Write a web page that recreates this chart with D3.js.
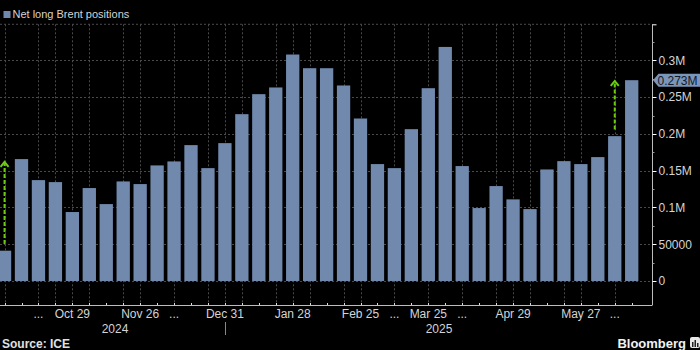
<!DOCTYPE html>
<html>
<head>
<meta charset="utf-8">
<script src="https://cdn.jsdelivr.net/npm/d3@7/dist/d3.min.js"></script>
<style>
  html, body { margin: 0; padding: 0; background: #000; }
  svg { display: block; }
  text { font-family: "Liberation Sans", Arial, sans-serif; }
</style>
</head>
<body>
<svg id="chart" width="700" height="350"></svg>
<script>
// ---------- DATA ----------
const weeks = [
  "2024-10-01","2024-10-08","2024-10-15","2024-10-22","2024-10-29","2024-11-05","2024-11-12","2024-11-19",
  "2024-11-26","2024-12-03","2024-12-10","2024-12-17","2024-12-24","2024-12-31","2025-01-07","2025-01-14",
  "2025-01-21","2025-01-28","2025-02-04","2025-02-11","2025-02-18","2025-02-25","2025-03-04","2025-03-11",
  "2025-03-18","2025-03-25","2025-04-01","2025-04-08","2025-04-15","2025-04-22","2025-04-29","2025-05-06",
  "2025-05-13","2025-05-20","2025-05-27","2025-06-03","2025-06-10","2025-06-17"
];
const netLong = [
  41200, 165800, 137200, 134500, 93800, 126400, 104600, 135400,
  131800, 157200, 162600, 184800, 153500, 187500, 226900, 254100,
  263200, 308000, 289400, 289400, 265900, 221000, 159000, 153500,
  206500, 262200, 318300, 156300, 99200, 129100, 111000, 97800,
  151700, 163000, 159000, 168500, 197000, 273100
];
const seriesName = "Net long Brent positions";
const yTicks = [0, 50000, 100000, 150000, 200000, 250000, 300000];
const yTickLabels = ["0", "50000", "0.1M", "0.15M", "0.2M", "0.25M", "0.3M"];
const yMinorTicks = [25000, 75000, 125000, 175000, 225000, 275000, 325000];
const gridWeeks = [
  "2024-10-01","2024-10-15","2024-10-22","2024-10-29","2024-11-05","2024-11-19","2024-11-26","2024-12-10",
  "2024-12-24","2024-12-31","2025-01-07","2025-01-21","2025-01-28","2025-02-04","2025-02-18","2025-02-25",
  "2025-03-11","2025-03-25","2025-04-08","2025-04-22","2025-04-29","2025-05-06","2025-05-20","2025-05-27",
  "2025-06-10"
];
const xTickWeeks  = ["2024-10-15","2024-10-29","2024-11-26","2024-12-10","2024-12-31","2025-01-28","2025-02-25","2025-03-11","2025-03-25","2025-04-08","2025-04-29","2025-05-27","2025-06-10"];
const xTickLabels = ["...","Oct 29","Nov 26","...","Dec 31","Jan 28","Feb 25","...","Mar 25","...","Apr 29","May 27","..."];
const yearBreakWeek = "2024-12-31";
const yearLabels = ["2024", "2025"];
const arrows = [
  { week: "2024-10-01", from: 50300, to: 162000 },
  { week: "2025-06-10", from: 206000, to: 272000 }
];
const lastLabel = "0.273M";
const sourceText = "Source: ICE";

// ---------- LAYOUT ----------
const plotLeft = 0, plotRight = 652.5, plotTop = 24.3, plotBottom = 305;
const barColor = "#7089ad";
const gridColor = "#4a4a4a";
const textColor = "#d4d4d4";

const svg = d3.select("#chart");
svg.append("rect").attr("width", 700).attr("height", 350).attr("fill", "#000");

const x = d3.scaleBand()
  .domain(weeks)
  .range([-3.92, 640.18])
  .paddingInner(0.215)
  .paddingOuter(0.1075);
const xc = w => x(w) + x.bandwidth() / 2;

const y = d3.scaleLinear().domain([0, 300000]).range([281, 60.4]);

const clip = svg.append("clipPath").attr("id", "plotclip")
  .append("rect").attr("x", plotLeft).attr("y", plotTop)
  .attr("width", plotRight - plotLeft).attr("height", plotBottom - plotTop);

// grid
const grid = svg.append("g");
grid.selectAll("line.h").data(yTicks.concat([349000])).join("line")
  .attr("x1", plotLeft).attr("x2", plotRight)
  .attr("y1", d => d === 349000 ? plotTop : Math.round(y(d)) + 0.5)
  .attr("y2", d => d === 349000 ? plotTop : Math.round(y(d)) + 0.5)
  .attr("stroke", gridColor).attr("stroke-width", 1).attr("stroke-dasharray", "2,2");
grid.selectAll("line.v").data(gridWeeks).join("line")
  .attr("x1", d => Math.round(xc(d)) + 0.5).attr("x2", d => Math.round(xc(d)) + 0.5)
  .attr("y1", plotTop).attr("y2", plotBottom)
  .attr("stroke", gridColor).attr("stroke-width", 1).attr("stroke-dasharray", "2,2");

// bars
svg.append("g").attr("clip-path", "url(#plotclip)")
  .selectAll("rect").data(weeks).join("rect")
  .attr("x", d => x(d))
  .attr("width", x.bandwidth())
  .attr("y", (d, i) => y(netLong[i]))
  .attr("height", (d, i) => y(0) - y(netLong[i]))
  .attr("fill", barColor);

// arrows
const ag = svg.append("g");
arrows.forEach(a => {
  const ax = xc(a.week);
  const y0 = y(a.from), y1 = y(a.to);
  ag.append("line").attr("x1", ax).attr("x2", ax).attr("y1", y0).attr("y2", y1 + 1)
    .attr("stroke", "#6ccc12").attr("stroke-width", 2).attr("stroke-dasharray", "4,2");
  ag.append("path")
    .attr("d", `M${ax - 4},${y1 + 5} L${ax},${y1} L${ax + 4},${y1 + 5}`)
    .attr("fill", "none").attr("stroke", "#6ccc12").attr("stroke-width", 2);
});

// right axis
const axisColor = "#bdbdbd";
svg.append("line").attr("x1", plotRight).attr("x2", plotRight)
  .attr("y1", plotTop).attr("y2", plotBottom)
  .attr("stroke", axisColor).attr("stroke-width", 1);
svg.append("line").attr("x1", plotRight).attr("x2", plotRight + 4)
  .attr("y1", plotTop + 0.5).attr("y2", plotTop + 0.5)
  .attr("stroke", "#fff").attr("stroke-width", 1);
const yax = svg.append("g");
yax.selectAll("line.maj").data(yTicks).join("line")
  .attr("x1", plotRight).attr("x2", plotRight + 4)
  .attr("y1", d => Math.round(y(d)) + 0.5).attr("y2", d => Math.round(y(d)) + 0.5)
  .attr("stroke", "#fff").attr("stroke-width", 1);
yax.selectAll("line.min").data(yMinorTicks).join("line")
  .attr("x1", plotRight).attr("x2", plotRight + 2)
  .attr("y1", d => Math.round(y(d)) + 0.5).attr("y2", d => Math.round(y(d)) + 0.5)
  .attr("stroke", "#999").attr("stroke-width", 1);
yax.selectAll("text").data(yTicks).join("text")
  .attr("x", plotRight + 6).attr("y", d => y(d))
  .attr("dy", "0.36em")
  .attr("fill", textColor).attr("font-size", "12px")
  .text((d, i) => yTickLabels[i]);

// last value tag
const lastV = netLong[netLong.length - 1];
const ty = y(lastV);
svg.append("path")
  .attr("d", `M${plotRight + 0.5},${ty} L${plotRight + 6},${ty - 6.5} L700,${ty - 6.5} L700,${ty + 6.5} L${plotRight + 6},${ty + 6.5} Z`)
  .attr("fill", "#7d96b8");
svg.append("text").attr("x", plotRight + 5).attr("y", ty).attr("dy", "0.36em")
  .attr("fill", "#0f1b2c").attr("font-size", "12px").text(lastLabel);

// bottom axis
svg.append("line").attr("x1", plotLeft).attr("x2", plotRight)
  .attr("y1", plotBottom + 0.5).attr("y2", plotBottom + 0.5)
  .attr("stroke", axisColor).attr("stroke-width", 1);
svg.append("g").selectAll("line").data(weeks).join("line")
  .attr("x1", d => Math.round(xc(d)) + 0.5).attr("x2", d => Math.round(xc(d)) + 0.5)
  .attr("y1", plotBottom - 2).attr("y2", plotBottom)
  .attr("stroke", "#ddd").attr("stroke-width", 1);
svg.append("g").selectAll("text").data(xTickWeeks).join("text")
  .attr("x", d => xc(d)).attr("y", 318)
  .attr("text-anchor", "middle")
  .attr("fill", textColor).attr("font-size", "12px")
  .text((d, i) => xTickLabels[i]);

// year break + year labels
const yb = Math.round(xc(yearBreakWeek)) + 0.5;
svg.append("line").attr("x1", yb).attr("x2", yb).attr("y1", 322).attr("y2", 335)
  .attr("stroke", "#888").attr("stroke-width", 1);
svg.append("text").attr("x", (xc(weeks[0]) + yb) / 2).attr("y", 333)
  .attr("text-anchor", "middle").attr("fill", textColor).attr("font-size", "12px").text(yearLabels[0]);
svg.append("text").attr("x", (yb + plotRight) / 2).attr("y", 333)
  .attr("text-anchor", "middle").attr("fill", textColor).attr("font-size", "12px").text(yearLabels[1]);

// legend
svg.append("rect").attr("x", 3.5).attr("y", 11).attr("width", 7).attr("height", 7).attr("fill", barColor);
svg.append("text").attr("x", 12.5).attr("y", 18).attr("fill", textColor)
  .attr("font-size", "11px").text(seriesName);

// source
svg.append("text").attr("x", 2).attr("y", 348).attr("fill", "#e0e0e0")
  .attr("font-size", "12px").attr("font-weight", "bold").text(sourceText);

// Bloomberg logo
svg.append("text").attr("x", 686).attr("y", 347.5).attr("text-anchor", "end")
  .attr("fill", "#f2f2f2").attr("font-size", "13px").attr("font-weight", "bold").text("Bloomberg");
svg.append("rect").attr("x", 690).attr("y", 337).attr("width", 10).attr("height", 11)
  .attr("rx", 2).attr("fill", "#e8e8e8");
[[692, 342, 1.5, 5], [694.5, 340, 1.5, 7], [697, 343, 1.5, 4]].forEach(b => {
  svg.append("rect").attr("x", b[0]).attr("y", b[1]).attr("width", b[2]).attr("height", b[3]).attr("fill", "#222");
});
</script>
</body>
</html>
